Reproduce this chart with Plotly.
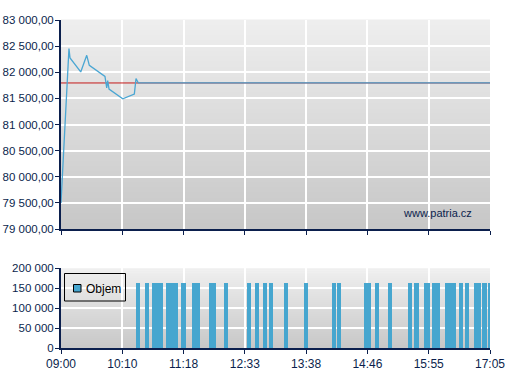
import plotly.graph_objects as go

# ---- data ----
# price line: minutes after 09:00 and price
price_t = [0, 9.0, 10.2, 22.3, 29.1, 32.0, 49.7, 51.7, 52.8, 53.5, 54.3, 69.8, 82.9, 84.8, 86.3, 87.5, 485]
price_v = [79500, 82453, 82274, 82006, 82324, 82132, 81921, 81699, 81839, 81679, 81679, 81493, 81583, 81877, 81814, 81795, 81795]
prev_close = 81795

# volume bars: start minute after 09:00 and volume
vol_t = [84.8, 95.0, 102.9, 107.4, 110.8, 118.7, 123.2, 127.7, 135.7, 136.8,
         148.1, 152.6, 167.3, 170.7, 184.3, 210.3, 219.3, 228.4, 235.1, 252.1,
         274.7, 306.4, 312.0, 342.5, 345.9, 355.0, 369.7, 392.3, 399.1, 400.2,
         410.4, 412.6, 419.4, 423.9, 434.1, 438.6, 442.0, 449.9, 456.7, 466.9,
         470.3, 475.9, 477.0, 482.7]
vol_v = [163000] * len(vol_t)
series_name = "Objem"

x_ticklabels = ["09:00", "10:10", "11:18", "12:33", "13:38", "14:46", "15:55", "17:05"]
price_ticks = [79000, 79500, 80000, 80500, 81000, 81500, 82000, 82500, 83000]
price_ticklabels = ["79 000,00", "79 500,00", "80 000,00", "80 500,00", "81 000,00",
                    "81 500,00", "82 000,00", "82 500,00", "83 000,00"]
vol_ticks = [0, 50000, 100000, 150000, 200000]
vol_ticklabels = ["0", "50 000", "100 000", "150 000", "200 000"]

# ---- styles ----
NAVY = "#0b1f4d"
BLUE = "#46a6cf"
FONT = "Liberation Sans"
SPAN = 485.0
x_tickvals = [i * SPAN / 7 for i in range(8)]

W, H = 507, 380
ML, MR, MT, MB = 61, 17, 20, 32
PW, PH = W - ML - MR, H - MT - MB


def px(x):
    return (x - ML) / PW


def py(y):
    return (H - MB - y) / PH


fig = go.Figure()

fig.add_trace(go.Scatter(x=[0, SPAN], y=[prev_close, prev_close], mode="lines",
                         line=dict(color="#c41a1a", width=1), xaxis="x", yaxis="y",
                         showlegend=False, hoverinfo="skip"))
fig.add_trace(go.Scatter(x=price_t, y=price_v, mode="lines",
                         line=dict(color="#4aa6d3", width=1.3), xaxis="x", yaxis="y",
                         showlegend=False))
fig.add_trace(go.Bar(x=vol_t, y=vol_v, width=[4.5] * len(vol_t), offset=0, name=series_name,
                     marker=dict(color=BLUE, line=dict(width=0)),
                     xaxis="x2", yaxis="y2", showlegend=False))

# gradient backgrounds
shapes = []
N = 40
for yref, (c0, c1) in (("y domain", ((0xef, 0xef, 0xef), (0xc6, 0xc6, 0xc6))),
                       ("y2 domain", ((0xef, 0xef, 0xef), (0xc8, 0xc8, 0xc8)))):
    xref = "x domain" if yref == "y domain" else "x2 domain"
    for i in range(N):
        f = (i + 0.5) / N
        c = tuple(round(c0[k] + (c1[k] - c0[k]) * f) for k in range(3))
        shapes.append(dict(type="rect", xref=xref, yref=yref, x0=0, x1=1,
                           y0=1 - (i + 1) / N - 0.002, y1=1 - i / N + 0.002,
                           fillcolor="rgb(%d,%d,%d)" % c, line=dict(width=0), layer="below"))

# manual legend box
shapes.append(dict(type="rect", xref="paper", yref="paper", x0=px(64.5), x1=px(125.5),
                   y0=py(301), y1=py(273.5), line=dict(color="black", width=1),
                   fillcolor="rgba(0,0,0,0)", layer="above"))
shapes.append(dict(type="rect", xref="paper", yref="paper", x0=px(73.5), x1=px(81),
                   y0=py(292), y1=py(284.5), line=dict(color="black", width=1),
                   fillcolor=BLUE, layer="above"))

axis_common = dict(showline=True, linecolor=NAVY, linewidth=2, ticks="outside",
                   tickcolor=NAVY, tickwidth=1, showgrid=True, gridcolor="white",
                   gridwidth=2, zeroline=False, automargin=False,
                   tickfont=dict(family=FONT, size=12, color=NAVY))

fig.update_layout(
    width=W, height=H,
    margin=dict(l=ML, r=MR, t=MT, b=MB),
    paper_bgcolor="white", plot_bgcolor="rgba(0,0,0,0)",
    bargap=0, showlegend=False,
    shapes=shapes,
    xaxis=dict(domain=[0, 1], anchor="y", range=[0, SPAN], tickvals=x_tickvals,
               ticktext=x_ticklabels, showticklabels=False, ticklen=4, **axis_common),
    yaxis=dict(domain=[py(229), 1], anchor="x", range=[79000, 83000], tickvals=price_ticks,
               ticktext=price_ticklabels, ticklen=4, ticklabelstandoff=-1, **axis_common),
    xaxis2=dict(domain=[0, 1], anchor="y2", range=[0, SPAN], tickvals=x_tickvals,
                ticktext=x_ticklabels, ticklen=4, **axis_common),
    yaxis2=dict(domain=[0, py(268.3)], anchor="x2", range=[0, 200000], tickvals=vol_ticks,
                ticktext=vol_ticklabels, ticklen=4, ticklabelstandoff=-1, **axis_common),
    annotations=[
        dict(text="www.patria.cz", xref="paper", yref="paper", x=px(473.5), y=py(213),
             xanchor="right", yanchor="middle", showarrow=False,
             font=dict(family=FONT, size=11, color=NAVY)),
        dict(text=series_name, xref="paper", yref="paper", x=px(84), y=py(288.5),
             xanchor="left", yanchor="middle", showarrow=False,
             font=dict(family=FONT, size=12, color="black")),
    ],
)
fig.update_yaxes(tickfont=dict(family=FONT, size=11.5, color=NAVY))

fig.write_html("out.html")
